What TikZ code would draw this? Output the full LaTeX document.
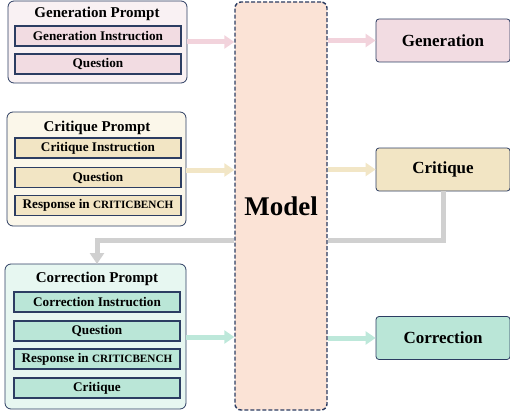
\documentclass[tikz,border=0pt]{standalone}
\usepackage{fontspec}
\setmainfont{Liberation Serif}
\usetikzlibrary{arrows.meta}
\definecolor{navy}{HTML}{2C3D62}
\definecolor{pinkIn}{HTML}{F2DCE2}
\definecolor{pinkOut}{HTML}{F9F1F3}
\definecolor{pinkArr}{HTML}{F2D3DC}
\definecolor{yelIn}{HTML}{F2E5C4}
\definecolor{yelOut}{HTML}{FBF7EA}
\definecolor{yelArr}{HTML}{F2E6C6}
\definecolor{grnIn}{HTML}{BAE6D7}
\definecolor{grnOut}{HTML}{E7F7F1}
\definecolor{grnArr}{HTML}{BDE8DA}
\definecolor{modelFill}{HTML}{FBE3D6}
\definecolor{grayArr}{HTML}{D0D0D0}
\tikzset{
  outerbox/.style={draw=navy, line width=0.8pt, rounded corners=6pt},
  innerbox/.style={draw=navy, line width=1.1pt, minimum width=166pt, minimum height=20pt, inner sep=0pt, font=\fontsize{13.2}{15}\selectfont\bfseries},
  titletext/.style={font=\fontsize{15}{17}\selectfont\bfseries, inner sep=0pt},
  outbox/.style={draw=navy, line width=0.8pt, rounded corners=3pt, minimum width=134pt, minimum height=43pt, inner sep=0pt, font=\fontsize{17}{19}\selectfont\bfseries},
  flow/.style={line width=5pt, -{Triangle[width=13pt,length=10pt]}},
}
\newcommand{\cb}{{\fontsize{11.2}{12}\selectfont CRITICBENCH}}
\begin{document}
\begin{tikzpicture}[x=1pt,y=-1pt]
\useasboundingbox (0,0) rectangle (510,414);
\coordinate (gc1) at (443,240);
\coordinate (gc2) at (97,240);
% model
\node[draw=navy, dash pattern=on 4pt off 2pt, line width=1.4pt, rounded corners=6pt, fill=modelFill, minimum width=92pt, minimum height=408pt, inner sep=0pt, font=\fontsize{27}{30}\selectfont\bfseries] (model) at (281,206) {Model};

% Generation prompt
\draw[outerbox, fill=pinkOut] (8,1) rectangle (187,83);
\node[titletext] (gt) at (97,14) {Generation Prompt};
\node[innerbox, fill=pinkIn] (g1) at (98,36) {Generation Instruction};
\node[innerbox, fill=pinkIn] (g2) at (98,64) {Question};
\coordinate (gp) at (187,42);

% Critique prompt
\draw[outerbox, fill=yelOut] (7,112) rectangle (186,226);
\node[titletext] (ct) at (97,128) {Critique Prompt};
\node[innerbox, fill=yelIn] (c1) at (98,148) {Critique Instruction};
\node[innerbox, fill=yelIn] (c2) at (98,177.5) {Question};
\node[innerbox, fill=yelIn] (c3) at (98,205.5) {Response in \cb};
\coordinate (cp) at (186,170);

% Correction prompt
\draw[outerbox, fill=grnOut] (5,264) rectangle (186,409);
\node[titletext] (rt) at (97,279) {Correction Prompt};
\node[innerbox, fill=grnIn] (r1) at (97,302) {Correction Instruction};
\node[innerbox, fill=grnIn] (r2) at (97,331) {Question};
\node[innerbox, fill=grnIn] (r3) at (97,359) {Response in \cb};
\node[innerbox, fill=grnIn] (r4) at (97,388) {Critique};
\coordinate (rp) at (186,337);

% outputs
\node[outbox, fill=pinkIn] (gen) at (443,40.5) {Generation};
\node[outbox, fill=yelIn] (cri) at (443,169.5) {Critique};
\node[outbox, fill=grnIn] (cor) at (443,338) {Correction};

% arrows in
\draw[flow, draw=pinkArr] (gp) -- (gp -| model.west);
\draw[flow, draw=yelArr] (cp) -- (cp -| model.west);
\draw[flow, draw=grnArr] (rp) -- (rp -| model.west);
% arrows out
\draw[flow, draw=pinkArr] (model.east |- gen) -- (gen.west);
\draw[flow, draw=yelArr] (model.east |- cri) -- (cri.west);
\draw[flow, draw=grnArr] (model.east |- cor) -- (cor.west);

% gray feedback
\draw[grayArr, line width=5pt] (cri.south) -- (gc1) -- (model.east |- gc1);
\draw[grayArr, line width=5pt, -{Triangle[width=14pt,length=11pt]}] (model.west |- gc2) -- (gc2) -- (97,264);
\end{tikzpicture}
\end{document}
